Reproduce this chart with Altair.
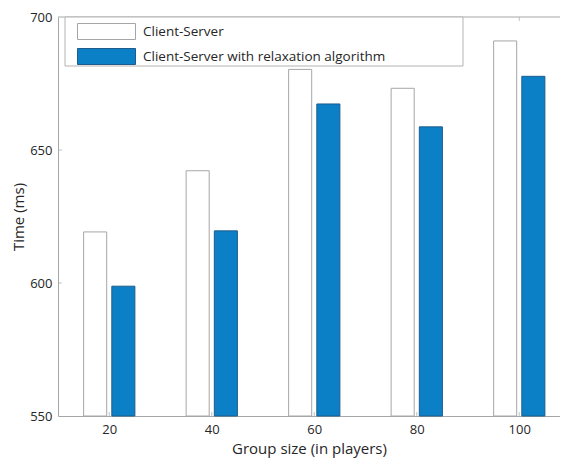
import altair as alt
import pandas as pd

groups = [20, 40, 60, 80, 100]
series_names = ["Client-Server", "Client-Server with relaxation algorithm"]
client_server = [619.2, 642.2, 680.3, 673.2, 691.0]
client_server_relax = [598.8, 619.6, 667.3, 658.7, 677.7]
y_ticks = [550, 600, 650, 700]

rows = []
for g, a, b in zip(groups, client_server, client_server_relax):
    rows.append({"group": g, "series": series_names[0], "value": a})
    rows.append({"group": g, "series": series_names[1], "value": b})
df = pd.DataFrame(rows)

W, H = 502, 399
FONT = "Open Sans"
BLUE = "#0b80c6"
GRAY = "#a6a6a6"
TXT = "#262626"

xscale = alt.Scale(domain=[10, 107.95], nice=False)
yscale = alt.Scale(domain=[550, 700], nice=False)

legend_cfg = dict(title=None, orient="none", legendX=40, legendY=6,
                  symbolType="M-3.625,-1H3.625V1H-3.625Z", symbolSize=256,
                  symbolStrokeWidth=1, labelOffset=28, labelFontSize=13.5,
                  labelFont=FONT, labelColor=TXT, rowPadding=4, padding=0,
                  labelLimit=0)

bars = alt.Chart(df).mark_bar(strokeWidth=1).transform_calculate(
    x0=f"datum.series == '{series_names[0]}' ? datum.group - 5.0 : datum.group + 0.5",
    x1=f"datum.series == '{series_names[0]}' ? datum.group - 0.5 : datum.group + 5.0",
).encode(
    x=alt.X("x0:Q", scale=xscale,
            axis=alt.Axis(values=groups, ticks=False, labelPadding=7, labelFontSize=13,
                          title="Group size (in players)", titleFontSize=15, titlePadding=5,
                          grid=False)),
    x2="x1:Q",
    y=alt.Y("value:Q", scale=yscale,
            axis=alt.Axis(values=y_ticks, ticks=False, labelPadding=6, labelFontSize=13,
                          title="Time (ms)", titleFontSize=15, titlePadding=3, grid=False)),
    y2=alt.datum(550),
    color=alt.Color("series:N", scale=alt.Scale(domain=series_names, range=["white", BLUE]),
                    legend=alt.Legend(**legend_cfg)),
    stroke=alt.Stroke("series:N", scale=alt.Scale(domain=series_names, range=[GRAY, "#1d5c8c"]),
                      legend=alt.Legend(**legend_cfg)),
)

one = alt.Data(values=[{}])

legend_box = alt.Chart(one).mark_rect(fill="white", stroke="#b3b3b3", strokeWidth=1).encode(
    x=alt.value(7), x2=alt.value(405), y=alt.value(0), y2=alt.value(49)
)

top_border = alt.Chart(one).mark_rule(color=GRAY, strokeWidth=1).encode(
    x=alt.value(0), x2=alt.value(W), y=alt.value(0)
)

ytick_df = pd.DataFrame({"v": y_ticks[1:-1]})
yticks_in = alt.Chart(ytick_df).mark_tick(color=GRAY, thickness=1, size=4).encode(
    y=alt.Y("v:Q", scale=yscale), x=alt.value(2)
)
xtick_df = pd.DataFrame({"g": groups})
xticks_bottom = alt.Chart(xtick_df).mark_tick(color=GRAY, thickness=1, size=4).encode(
    x=alt.X("g:Q", scale=xscale), y=alt.value(H - 2)
)
xticks_top = alt.Chart(xtick_df).mark_tick(color=GRAY, thickness=1, size=4).encode(
    x=alt.X("g:Q", scale=xscale), y=alt.value(2)
)

chart = alt.layer(bars, yticks_in, xticks_bottom, xticks_top, top_border, legend_box).properties(
    width=W, height=H,
    autosize=alt.AutoSizeParams(type="none"),
    padding={"left": 50, "top": 9, "right": 0, "bottom": 43},
).configure_view(stroke=None).configure_axis(
    domainColor=GRAY, labelColor=TXT, titleColor=TXT, labelFont=FONT, titleFont=FONT,
    titleFontWeight="normal"
)

chart.save("out.html", embed_options={"renderer": "svg", "actions": False})
